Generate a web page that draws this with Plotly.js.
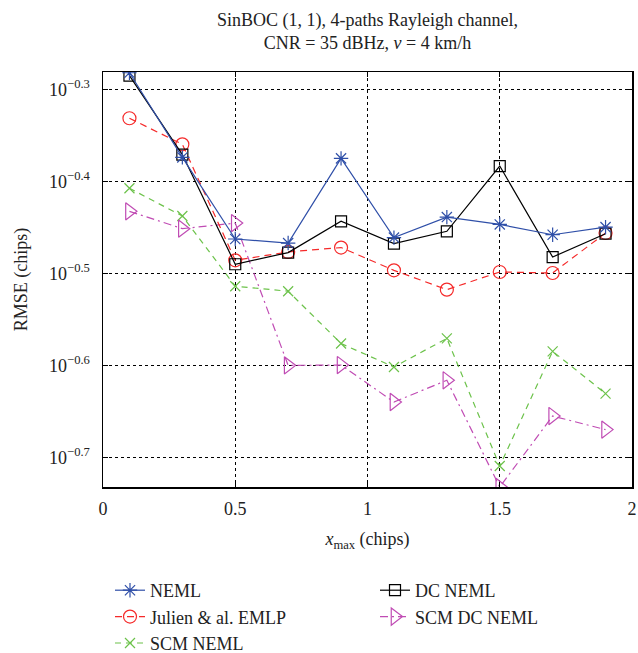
<!DOCTYPE html>
<html>
<head>
<meta charset="utf-8">
<script src="https://cdn.plot.ly/plotly-3.0.1.min.js"></script>
<style>html,body{margin:0;padding:0;background:#fff;}#chart{width:638px;height:653px;}</style>
</head>
<body>
<div id="chart"></div>
<script>
const xVals = [0.1, 0.3, 0.5, 0.7, 0.9, 1.1, 1.3, 1.5, 1.7, 1.9];
const neml = [0.5224, 0.4227, 0.3447, 0.3412, 0.4217, 0.3459, 0.3641, 0.3575, 0.3484, 0.3551];
const julienEmlp = [0.4662, 0.4368, 0.3268, 0.3337, 0.3374, 0.3187, 0.3037, 0.3174, 0.3166, 0.3499];
const scmNeml = [0.3913, 0.3651, 0.3063, 0.3025, 0.2654, 0.2503, 0.2688, 0.1954, 0.2603, 0.2342];
const dcNeml = [0.5187, 0.4257, 0.3236, 0.3332, 0.3603, 0.3407, 0.3514, 0.4137, 0.3295, 0.3493];
const scmDcNeml = [0.3694, 0.3537, 0.3587, 0.2513, 0.2515, 0.2293, 0.2421, 0.1854, 0.2214, 0.2140];
const yTickVals = [Math.pow(10,-0.3), Math.pow(10,-0.4), Math.pow(10,-0.5), Math.pow(10,-0.6), Math.pow(10,-0.7)];
const yTickText = ['10<sup>\u22120.3</sup>','10<sup>\u22120.4</sup>','10<sup>\u22120.5</sup>','10<sup>\u22120.6</sup>','10<sup>\u22120.7</sup>'];
const xTickVals = [0, 0.5, 1, 1.5, 2];
const xTickText = ['0', '0.5', '1', '1.5', '2'];

const FONT = 'Liberation Serif, Times New Roman, serif';
const TXT = '#222';

function tr(name, y, color, dash, symbol, size, rank) {
  return {
    x: xVals, y: y, name: name, type: 'scatter', mode: 'lines+markers',
    line: {color: color, width: 1.2, dash: dash},
    marker: {symbol: symbol, size: size, color: color, line: {color: color, width: 1.2}},
    legendrank: rank
  };
}

// legend reads row-wise: NEML | DC NEML, Julien | SCM DC NEML, SCM NEML
const data = [
  tr('SCM NEML', scmNeml, '#6cc24a', '6px,5px', 'x-thin-open', 10, 5),
  tr('SCM DC NEML', scmDcNeml, '#c04cb4', '8px,4px,2px,4px', 'triangle-right-open', 15, 4),
  tr('Julien &amp; al. EMLP', julienEmlp, '#f52a2a', '7px,5px', 'circle-open', 13, 3),
  tr('DC NEML', dcNeml, '#000000', 'solid', 'square-open', 11, 2),
  tr('NEML', neml, '#2f4fa8', 'solid', 'asterisk-open', 12, 1)
];

const layout = {
  width: 638, height: 653,
  margin: {l: 103, r: 6, t: 72, b: 166, autoexpand: false},
  paper_bgcolor: '#fff', plot_bgcolor: '#fff',
  font: {family: FONT, size: 18, color: TXT},
  title: {
    text: 'SinBOC (1, 1), 4-paths Rayleigh channel,<br>CNR = 35 dBHz, <i>\u03bd</i> = 4 km/h',
    x: 0.5, xref: 'paper', xanchor: 'center',
    y: 1 - 26/653, yref: 'container', yanchor: 'top',
    font: {family: FONT, size: 18, color: TXT}
  },
  xaxis: {
    range: [0, 2], tickvals: xTickVals, ticktext: xTickText,
    showgrid: true, gridcolor: '#000', griddash: 'dot', gridwidth: 1,
    ticks: 'inside', ticklen: 5, tickcolor: '#000', mirror: 'ticks',
    showline: true, linecolor: '#000', linewidth: 1.5, zeroline: false,
    ticklabelstandoff: 5,
    tickfont: {family: FONT, size: 18, color: TXT},
    title: {text: '<i>x</i><sub>max</sub> (chips)', font: {family: FONT, size: 18, color: TXT}, standoff: 14}
  },
  yaxis: {
    type: 'log', range: [-0.7319, -0.2812],
    tickvals: yTickVals, ticktext: yTickText,
    showgrid: true, gridcolor: '#000', griddash: 'dot', gridwidth: 1,
    ticks: 'inside', ticklen: 5, tickcolor: '#000', mirror: 'ticks',
    showline: true, linecolor: '#000', linewidth: 1.5, zeroline: false,
    ticklabelstandoff: 8,
    tickfont: {family: FONT, size: 18, color: TXT},
    title: {text: 'RMSE (chips)', font: {family: FONT, size: 18, color: TXT}, standoff: 16}
  },
  legend: {
    orientation: 'h', x: 7/529, xref: 'paper', xanchor: 'left',
    y: 1 - 572/653, yref: 'container', yanchor: 'top',
    entrywidth: 220, entrywidthmode: 'pixels',
    font: {family: FONT, size: 18, color: TXT},
    bgcolor: 'rgba(0,0,0,0)', traceorder: 'normal'
  },
  showlegend: true
};

Plotly.newPlot('chart', data, layout, {displayModeBar: false, staticPlot: true});
</script>
</body>
</html>
